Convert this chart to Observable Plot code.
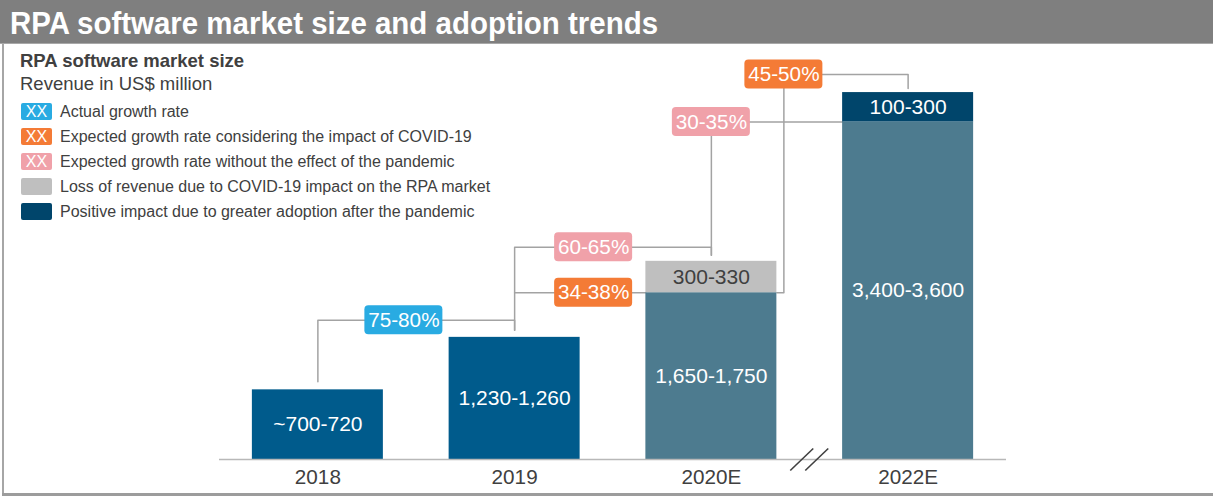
<!DOCTYPE html>
<html>
<head>
<meta charset="utf-8">
<script src="https://cdn.jsdelivr.net/npm/d3@7"></script>
<script src="https://cdn.jsdelivr.net/npm/@observablehq/plot@0.6"></script>
<style>
html, body { margin: 0; padding: 0; background: #fff; }
#wrap { position: relative; width: 1213px; height: 496px; overflow: hidden; font-family: "Liberation Sans", Arial, sans-serif; color: #404040; }
#title { position: absolute; left: 0; top: 0; width: 1213px; height: 43px; background: #7f7f7f; border-bottom: 1px solid #a8a8a8; }
#title span { position: absolute; left: 10px; top: 8px; font-size: 31px; line-height: 31px; font-weight: bold; color: #fff; transform: scaleX(0.95); transform-origin: 0 0; white-space: nowrap; }
#chart { position: absolute; left: 0; top: 44px; }
.bl { position: absolute; left: 2px; top: 44px; width: 2px; height: 452px; background: #a6a6a6; }
.bb { position: absolute; left: 2px; top: 493px; width: 1211px; height: 3px; background: #9c9c9c; }
.hdr { position: absolute; left: 20px; font-size: 18.5px; line-height: 18.5px; white-space: nowrap; }
.item { position: absolute; left: 60px; font-size: 16px; line-height: 16px; white-space: nowrap; }
.sw { position: absolute; left: 21px; width: 31px; height: 17px; border-radius: 2px; color: #fff; font-size: 16px; line-height: 17px; text-align: center; }
</style>
</head>
<body>
<div id="wrap">
  <div id="title"><span>RPA software market size and adoption trends</span></div>
  <div id="chart"></div>
  <div id="legend"></div>
  <div class="bl"></div>
  <div class="bb"></div>
</div>
<script>
// ---- data ----
const years = ["2018", "2019", "2020E", "2022E"];
const baseValues = [710, 1245, 1700, 3440];          // US$ million (drawn height of main bar)
const extraValues = [0, 0, 320, 300];                // stacked segment on top
const extraKinds = [null, null, "loss", "gain"];
const baseLabels = ["~700-720", "1,230-1,260", "1,650-1,750", "3,400-3,600"];
const extraLabels = [null, null, "300-330", "100-300"];
const growthLabels = ["75-80%", "60-65%", "34-38%", "30-35%", "45-50%"];
const growthKinds = ["actual", "noCovid", "covid", "noCovid", "covid"];
const legendLabels = [
  "Actual growth rate",
  "Expected growth rate considering the impact of COVID-19",
  "Expected growth rate without the effect of the pandemic",
  "Loss of revenue due to COVID-19 impact on the RPA market",
  "Positive impact due to greater adoption after the pandemic"
];
const legendKinds = ["actual", "covid", "noCovid", "loss", "gain"];
const legendHasText = [true, true, true, false, false];

// ---- styles ----
const colors = {
  actualBar: "#005b8c", estimateBar: "#4d7b8f", loss: "#bfbfbf", gain: "#00456b",
  actual: "#29abe2", covid: "#f47b36", noCovid: "#f0a1a9"
};
const textColor = "#404040";
const lineColor = "#a3a3a3";

// ---- header & legend (HTML) ----
const legendEl = document.getElementById("legend");
legendEl.innerHTML =
  `<div class="hdr" style="top:52px;font-weight:bold">RPA software market size</div>` +
  `<div class="hdr" style="top:74.5px">Revenue in US$ million</div>` +
  legendLabels.map((t, k) =>
    `<div class="sw" style="top:${103 + 25 * k}px;background:${colors[legendKinds[k]]}">${legendHasText[k] ? "XX" : ""}</div>` +
    `<div class="item" style="top:${104.3 + 25 * k}px">${t}</div>`).join("");

// ---- chart ----
const W = 1213, H = 452, mL = 219, mR = 207, mT = 0, mB = 37;
const xDomain = [-0.5, 3.5], yMax = 4230;
const kx = (W - mL - mR) / (xDomain[1] - xDomain[0]);   // px per x unit
const ky = yMax / (H - mT - mB);                        // data units per px
const px = p => p / kx;
const py = p => p * ky;
const hw = px(65.5);
const topOf = i => baseValues[i] + extraValues[i];

const baseSeg = years.map((y, i) => ({i, y1: 0, y2: baseValues[i], kind: i < 2 ? "actualBar" : "estimateBar", label: baseLabels[i]}));
const extraSeg = years.map((y, i) => ({i, y1: baseValues[i], y2: topOf(i), kind: extraKinds[i], label: extraLabels[i]}))
  .filter(d => extraValues[d.i] > 0);
const segs = baseSeg.concat(extraSeg);

const corner = 2 + hw + px(7);
const connectors = [
  [[0, topOf(0) + py(8)], [0, topOf(1) + py(17)], [1, topOf(1) + py(17)], [1, topOf(1) + py(7)]],
  [[1, topOf(1) + py(7)], [1, topOf(2) + py(14)], [2, topOf(2) + py(14)], [2, topOf(2) + py(6)]],
  [[1, baseValues[2]], [2 - hw, baseValues[2]]],
  [[2, topOf(2) + py(6)], [2, baseValues[3]], [3 - hw, baseValues[3]]],
  [[2 + hw, baseValues[2]], [corner, baseValues[2]], [corner, topOf(3) + py(18)], [3, topOf(3) + py(18)], [3, topOf(3) + py(4)]]
].flatMap((pts, id) => pts.map(([x, y]) => ({id, x, y})));

const boxPos = [
  [0 + px(86), topOf(1) + py(17)],
  [1 + px(79), topOf(2) + py(14)],
  [1 + px(79), baseValues[2]],
  [2, baseValues[3]],
  [corner, topOf(3) + py(18)]
];
const boxes = growthLabels.map((t, k) => ({x: boxPos[k][0], y: boxPos[k][1], kind: growthKinds[k], label: t}));
const bw = px(39), bh = py(14.5);

const slashes = [-8, 7].map(o => ({x1: 2.5 + px(o - 11.5), y1: -py(11), x2: 2.5 + px(o + 11.5), y2: py(11)}));

const rectFor = kind => Plot.rect(segs, {
  filter: d => d.kind === kind,
  x1: d => d.i - hw, x2: d => d.i + hw, y1: "y1", y2: "y2", fill: colors[kind]
});
const boxFor = kind => Plot.rect(boxes, {
  filter: d => d.kind === kind,
  x1: d => d.x - bw, x2: d => d.x + bw, y1: d => d.y - bh, y2: d => d.y + bh,
  fill: colors[kind], rx: 4
});

const chart = Plot.plot({
  width: W, height: H,
  marginLeft: mL, marginRight: mR, marginTop: mT, marginBottom: mB,
  x: {domain: xDomain, axis: null},
  y: {domain: [0, yMax], axis: null},
  style: {fontFamily: '"Liberation Sans", Arial, sans-serif', background: "transparent", overflow: "visible"},
  marks: [
    Plot.line(connectors, {x: "x", y: "y", z: "id", stroke: lineColor, strokeWidth: 1.5, curve: "linear"}),
    boxFor("actual"), boxFor("covid"), boxFor("noCovid"),
    Plot.text(boxes, {x: "x", y: "y", text: "label", fill: "#fff", fontSize: 20.7}),
    rectFor("actualBar"), rectFor("estimateBar"), rectFor("loss"), rectFor("gain"),
    Plot.text(segs, {x: "i", y: d => (d.y1 + d.y2) / 2, text: "label", fill: d => d.kind === "loss" ? textColor : "#fff", fontSize: 21}),
    Plot.ruleY([0], {stroke: "#b8b8b8", strokeWidth: 1.5}),
    Plot.link(slashes, {x1: "x1", y1: "y1", x2: "x2", y2: "y2", stroke: textColor, strokeWidth: 1.6}),
    Plot.text(years, {x: (d, i) => i, y: 0, dy: 17.5, text: d => d, fill: textColor, fontSize: 20.7})
  ]
});
document.getElementById("chart").appendChild(chart);
</script>
</body>
</html>
